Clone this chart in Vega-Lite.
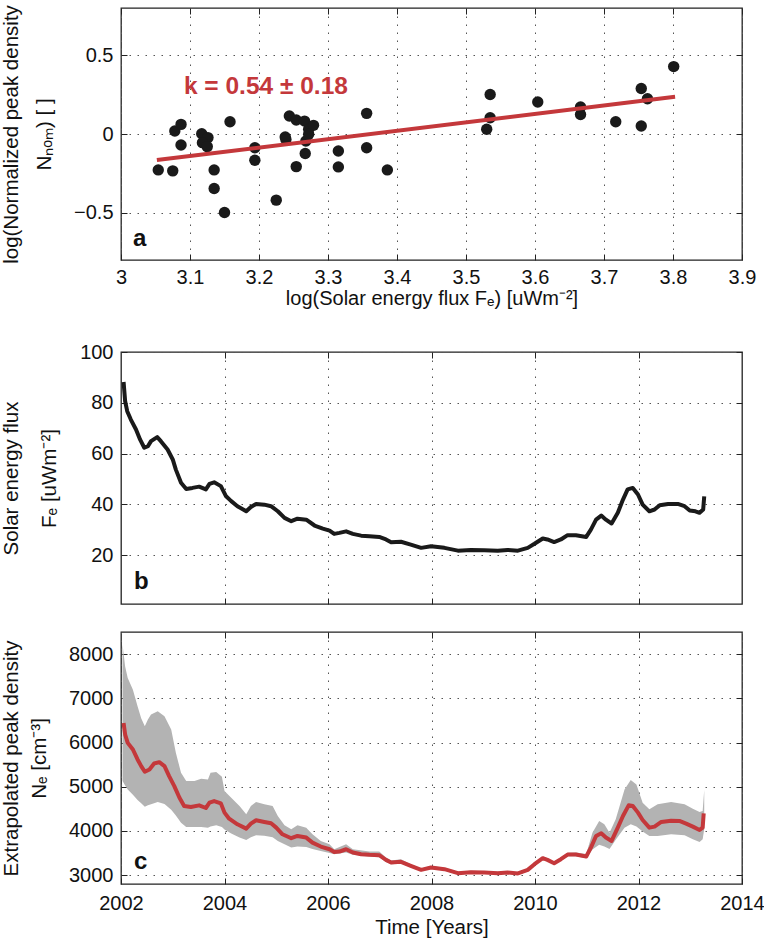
{
  "$schema": "https://vega.github.io/schema/vega-lite/v6.json",
  "padding": {"left": 0, "top": 4, "right": 0, "bottom": 0},
  "background": "white",
  "spacing": 32,
  "config": {
    "view": {"stroke": "#222", "strokeWidth": 1.3},
    "axis": {
      "labelFont": "Liberation Sans", "titleFont": "Liberation Sans",
      "labelFontSize": 20, "titleFontSize": 20.5, "titleFontWeight": "normal",
      "labelColor": "#111", "titleColor": "#111",
      "grid": true, "gridColor": "#555", "gridDash": [1.5, 6.5], "gridWidth": 1,
      "tickColor": "#222", "tickSize": -6, "tickWidth": 1, "domain": false,
      "labelPadding": 14, "labelFlush": false, "labelOverlap": false, "labelBound": false
    }
  },
  "datasets": {
    "scatter": [
      {"x": 3.054, "y": -0.228}, {"x": 3.075, "y": -0.234}, {"x": 3.078, "y": 0.019}, {"x": 3.087, "y": 0.061},
      {"x": 3.087, "y": -0.070}, {"x": 3.117, "y": 0.002}, {"x": 3.126, "y": -0.023}, {"x": 3.118, "y": -0.055},
      {"x": 3.125, "y": -0.080}, {"x": 3.135, "y": -0.228}, {"x": 3.135, "y": -0.346}, {"x": 3.150, "y": -0.498},
      {"x": 3.158, "y": 0.078}, {"x": 3.194, "y": -0.087}, {"x": 3.194, "y": -0.167}, {"x": 3.225, "y": -0.420},
      {"x": 3.238, "y": -0.019}, {"x": 3.239, "y": -0.035}, {"x": 3.244, "y": 0.114}, {"x": 3.254, "y": 0.089},
      {"x": 3.254, "y": -0.207}, {"x": 3.266, "y": 0.082}, {"x": 3.272, "y": 0.030}, {"x": 3.279, "y": 0.055},
      {"x": 3.268, "y": -0.044}, {"x": 3.267, "y": -0.124}, {"x": 3.272, "y": -0.002}, {"x": 3.315, "y": -0.108},
      {"x": 3.315, "y": -0.209}, {"x": 3.356, "y": 0.131}, {"x": 3.356, "y": -0.087}, {"x": 3.386, "y": -0.228},
      {"x": 3.535, "y": 0.251}, {"x": 3.535, "y": 0.103}, {"x": 3.530, "y": 0.030}, {"x": 3.604, "y": 0.203},
      {"x": 3.666, "y": 0.171}, {"x": 3.666, "y": 0.124}, {"x": 3.717, "y": 0.078}, {"x": 3.754, "y": 0.289},
      {"x": 3.763, "y": 0.224}, {"x": 3.754, "y": 0.051}, {"x": 3.801, "y": 0.428}
    ],
    "fit": [{"x": 3.052, "y": -0.165}, {"x": 3.803, "y": 0.236}],
    "flux": [
      {"t": 2002.05, "f": 88.2}, {"t": 2002.08, "f": 80.6}, {"t": 2002.12, "f": 76.7}, {"t": 2002.19, "f": 73.4},
      {"t": 2002.29, "f": 69.5}, {"t": 2002.37, "f": 65.5}, {"t": 2002.45, "f": 62.3}, {"t": 2002.52, "f": 62.9},
      {"t": 2002.58, "f": 64.9}, {"t": 2002.70, "f": 66.5}, {"t": 2002.77, "f": 64.9}, {"t": 2002.90, "f": 61.6},
      {"t": 2003.00, "f": 57.7}, {"t": 2003.06, "f": 53.7}, {"t": 2003.16, "f": 48.5}, {"t": 2003.26, "f": 46.1},
      {"t": 2003.38, "f": 46.5}, {"t": 2003.51, "f": 47.0}, {"t": 2003.64, "f": 45.9}, {"t": 2003.71, "f": 48.1},
      {"t": 2003.80, "f": 48.7}, {"t": 2003.93, "f": 47.2}, {"t": 2004.03, "f": 43.2}, {"t": 2004.13, "f": 41.3},
      {"t": 2004.25, "f": 39.3}, {"t": 2004.42, "f": 37.3}, {"t": 2004.51, "f": 39.0}, {"t": 2004.61, "f": 40.2},
      {"t": 2004.77, "f": 39.9}, {"t": 2004.90, "f": 39.3}, {"t": 2005.03, "f": 37.3}, {"t": 2005.16, "f": 34.7},
      {"t": 2005.29, "f": 33.4}, {"t": 2005.41, "f": 34.4}, {"t": 2005.58, "f": 34.0}, {"t": 2005.74, "f": 31.7},
      {"t": 2005.90, "f": 30.5}, {"t": 2006.03, "f": 29.7}, {"t": 2006.12, "f": 28.4}, {"t": 2006.22, "f": 28.8},
      {"t": 2006.35, "f": 29.4}, {"t": 2006.48, "f": 28.4}, {"t": 2006.64, "f": 27.7}, {"t": 2006.80, "f": 27.5},
      {"t": 2006.99, "f": 27.2}, {"t": 2007.12, "f": 26.2}, {"t": 2007.22, "f": 25.1}, {"t": 2007.41, "f": 25.3},
      {"t": 2007.60, "f": 24.2}, {"t": 2007.80, "f": 22.9}, {"t": 2007.99, "f": 23.5}, {"t": 2008.25, "f": 22.9},
      {"t": 2008.51, "f": 21.8}, {"t": 2008.76, "f": 22.1}, {"t": 2009.02, "f": 22.0}, {"t": 2009.28, "f": 21.8},
      {"t": 2009.47, "f": 22.1}, {"t": 2009.67, "f": 21.8}, {"t": 2009.86, "f": 22.9}, {"t": 2009.99, "f": 24.5},
      {"t": 2010.15, "f": 26.6}, {"t": 2010.24, "f": 26.2}, {"t": 2010.37, "f": 25.2}, {"t": 2010.50, "f": 26.2},
      {"t": 2010.63, "f": 27.9}, {"t": 2010.79, "f": 27.9}, {"t": 2010.99, "f": 27.2}, {"t": 2011.08, "f": 30.1},
      {"t": 2011.18, "f": 34.0}, {"t": 2011.28, "f": 35.6}, {"t": 2011.37, "f": 34.0}, {"t": 2011.48, "f": 32.5},
      {"t": 2011.60, "f": 36.7}, {"t": 2011.70, "f": 41.9}, {"t": 2011.79, "f": 45.9}, {"t": 2011.89, "f": 46.5},
      {"t": 2011.99, "f": 43.9}, {"t": 2012.08, "f": 39.9}, {"t": 2012.21, "f": 37.3}, {"t": 2012.31, "f": 38.0},
      {"t": 2012.41, "f": 39.7}, {"t": 2012.57, "f": 40.2}, {"t": 2012.76, "f": 40.2}, {"t": 2012.89, "f": 39.3},
      {"t": 2012.99, "f": 37.6}, {"t": 2013.10, "f": 37.3}, {"t": 2013.18, "f": 36.7}, {"t": 2013.25, "f": 38.0},
      {"t": 2013.27, "f": 43.2}
    ],
    "dens": [
      {"t": 2002.05, "n": 6444}, {"t": 2002.08, "n": 6180}, {"t": 2002.13, "n": 5992}, {"t": 2002.23, "n": 5842},
      {"t": 2002.32, "n": 5617}, {"t": 2002.39, "n": 5466}, {"t": 2002.46, "n": 5338}, {"t": 2002.55, "n": 5391},
      {"t": 2002.64, "n": 5526}, {"t": 2002.74, "n": 5556}, {"t": 2002.84, "n": 5466}, {"t": 2002.93, "n": 5241},
      {"t": 2003.03, "n": 5015}, {"t": 2003.13, "n": 4752}, {"t": 2003.22, "n": 4564}, {"t": 2003.35, "n": 4541},
      {"t": 2003.51, "n": 4579}, {"t": 2003.64, "n": 4519}, {"t": 2003.71, "n": 4639}, {"t": 2003.80, "n": 4677},
      {"t": 2003.93, "n": 4624}, {"t": 2004.00, "n": 4414}, {"t": 2004.09, "n": 4278}, {"t": 2004.25, "n": 4150},
      {"t": 2004.42, "n": 4053}, {"t": 2004.51, "n": 4165}, {"t": 2004.61, "n": 4241}, {"t": 2004.77, "n": 4203},
      {"t": 2004.90, "n": 4173}, {"t": 2005.00, "n": 4075}, {"t": 2005.12, "n": 3925}, {"t": 2005.29, "n": 3835},
      {"t": 2005.41, "n": 3887}, {"t": 2005.58, "n": 3850}, {"t": 2005.70, "n": 3737}, {"t": 2005.86, "n": 3647},
      {"t": 2006.03, "n": 3586}, {"t": 2006.12, "n": 3526}, {"t": 2006.22, "n": 3534}, {"t": 2006.35, "n": 3586},
      {"t": 2006.48, "n": 3511}, {"t": 2006.64, "n": 3474}, {"t": 2006.80, "n": 3459}, {"t": 2006.99, "n": 3451},
      {"t": 2007.12, "n": 3346}, {"t": 2007.22, "n": 3286}, {"t": 2007.41, "n": 3301}, {"t": 2007.60, "n": 3211},
      {"t": 2007.80, "n": 3120}, {"t": 2007.99, "n": 3173}, {"t": 2008.25, "n": 3135}, {"t": 2008.51, "n": 3045},
      {"t": 2008.76, "n": 3068}, {"t": 2009.02, "n": 3060}, {"t": 2009.28, "n": 3045}, {"t": 2009.47, "n": 3060},
      {"t": 2009.67, "n": 3038}, {"t": 2009.86, "n": 3120}, {"t": 2009.99, "n": 3248}, {"t": 2010.15, "n": 3383},
      {"t": 2010.24, "n": 3346}, {"t": 2010.37, "n": 3271}, {"t": 2010.50, "n": 3361}, {"t": 2010.63, "n": 3466},
      {"t": 2010.79, "n": 3466}, {"t": 2010.99, "n": 3421}, {"t": 2011.08, "n": 3624}, {"t": 2011.18, "n": 3887},
      {"t": 2011.28, "n": 3947}, {"t": 2011.37, "n": 3850}, {"t": 2011.48, "n": 3774}, {"t": 2011.60, "n": 4075},
      {"t": 2011.70, "n": 4338}, {"t": 2011.81, "n": 4579}, {"t": 2011.89, "n": 4564}, {"t": 2011.99, "n": 4414},
      {"t": 2012.08, "n": 4248}, {"t": 2012.21, "n": 4075}, {"t": 2012.31, "n": 4098}, {"t": 2012.44, "n": 4203},
      {"t": 2012.63, "n": 4233}, {"t": 2012.79, "n": 4226}, {"t": 2012.92, "n": 4165}, {"t": 2013.05, "n": 4098},
      {"t": 2013.18, "n": 4023}, {"t": 2013.24, "n": 4075}, {"t": 2013.26, "n": 4398}
    ],
    "band": [
      {"t": 2002.03, "lo": 5128, "hi": 8211}, {"t": 2002.08, "lo": 5030, "hi": 7722}, {"t": 2002.13, "lo": 4940, "hi": 7459},
      {"t": 2002.23, "lo": 4820, "hi": 7195}, {"t": 2002.32, "lo": 4700, "hi": 6820}, {"t": 2002.39, "lo": 4624, "hi": 6550},
      {"t": 2002.46, "lo": 4549, "hi": 6368}, {"t": 2002.52, "lo": 4580, "hi": 6519}, {"t": 2002.58, "lo": 4602, "hi": 6632},
      {"t": 2002.71, "lo": 4654, "hi": 6707}, {"t": 2002.84, "lo": 4610, "hi": 6594}, {"t": 2002.97, "lo": 4480, "hi": 6293},
      {"t": 2003.06, "lo": 4350, "hi": 5767}, {"t": 2003.16, "lo": 4188, "hi": 5316}, {"t": 2003.26, "lo": 4090, "hi": 5128},
      {"t": 2003.42, "lo": 4090, "hi": 5128}, {"t": 2003.55, "lo": 4090, "hi": 5180}, {"t": 2003.68, "lo": 4075, "hi": 5165},
      {"t": 2003.73, "lo": 4100, "hi": 5316}, {"t": 2003.84, "lo": 4130, "hi": 5331}, {"t": 2003.95, "lo": 4090, "hi": 5226},
      {"t": 2004.00, "lo": 4030, "hi": 4902}, {"t": 2004.13, "lo": 3940, "hi": 4752}, {"t": 2004.29, "lo": 3850, "hi": 4564},
      {"t": 2004.42, "lo": 3797, "hi": 4376}, {"t": 2004.51, "lo": 3860, "hi": 4564}, {"t": 2004.61, "lo": 3902, "hi": 4654},
      {"t": 2004.77, "lo": 3890, "hi": 4602}, {"t": 2004.93, "lo": 3860, "hi": 4564}, {"t": 2005.03, "lo": 3770, "hi": 4338},
      {"t": 2005.16, "lo": 3700, "hi": 4128}, {"t": 2005.29, "lo": 3624, "hi": 4038}, {"t": 2005.41, "lo": 3650, "hi": 4128},
      {"t": 2005.58, "lo": 3639, "hi": 4075}, {"t": 2005.70, "lo": 3590, "hi": 3925}, {"t": 2005.86, "lo": 3549, "hi": 3774},
      {"t": 2006.03, "lo": 3500, "hi": 3699}, {"t": 2006.12, "lo": 3474, "hi": 3586}, {"t": 2006.35, "lo": 3511, "hi": 3699},
      {"t": 2006.48, "lo": 3460, "hi": 3586}, {"t": 2006.80, "lo": 3420, "hi": 3534}, {"t": 2006.99, "lo": 3406, "hi": 3534},
      {"t": 2007.12, "lo": 3300, "hi": 3398}, {"t": 2007.22, "lo": 3248, "hi": 3330}, {"t": 2007.41, "lo": 3263, "hi": 3361},
      {"t": 2007.60, "lo": 3180, "hi": 3245}, {"t": 2007.80, "lo": 3090, "hi": 3150}, {"t": 2007.99, "lo": 3140, "hi": 3205},
      {"t": 2008.25, "lo": 3105, "hi": 3165}, {"t": 2008.51, "lo": 3015, "hi": 3075}, {"t": 2008.76, "lo": 3038, "hi": 3098},
      {"t": 2009.02, "lo": 3030, "hi": 3090}, {"t": 2009.28, "lo": 3015, "hi": 3075}, {"t": 2009.47, "lo": 3030, "hi": 3090},
      {"t": 2009.67, "lo": 3008, "hi": 3068}, {"t": 2009.86, "lo": 3090, "hi": 3150}, {"t": 2009.99, "lo": 3215, "hi": 3280},
      {"t": 2010.15, "lo": 3350, "hi": 3420}, {"t": 2010.24, "lo": 3310, "hi": 3380}, {"t": 2010.37, "lo": 3240, "hi": 3305},
      {"t": 2010.50, "lo": 3325, "hi": 3400}, {"t": 2010.63, "lo": 3430, "hi": 3505}, {"t": 2010.79, "lo": 3425, "hi": 3510},
      {"t": 2010.99, "lo": 3380, "hi": 3480}, {"t": 2011.11, "lo": 3580, "hi": 3962}, {"t": 2011.24, "lo": 3690, "hi": 4226},
      {"t": 2011.34, "lo": 3650, "hi": 4150}, {"t": 2011.44, "lo": 3590, "hi": 3962}, {"t": 2011.56, "lo": 3800, "hi": 4263},
      {"t": 2011.73, "lo": 4075, "hi": 4940}, {"t": 2011.85, "lo": 4150, "hi": 5150}, {"t": 2011.96, "lo": 4100, "hi": 5053},
      {"t": 2012.08, "lo": 3990, "hi": 4639}, {"t": 2012.21, "lo": 3887, "hi": 4489}, {"t": 2012.37, "lo": 3887, "hi": 4602},
      {"t": 2012.63, "lo": 3925, "hi": 4654}, {"t": 2012.89, "lo": 3902, "hi": 4602}, {"t": 2013.05, "lo": 3812, "hi": 4504},
      {"t": 2013.18, "lo": 3752, "hi": 4429}, {"t": 2013.24, "lo": 3812, "hi": 4451}, {"t": 2013.27, "lo": 4038, "hi": 4925}
    ]
  },
  "vconcat": [
    {
      "width": 621, "height": 252,
      "resolve": {"axis": {"x": "independent", "y": "independent"}},
      "layer": [
        {
          "data": {"name": "scatter"},
          "mark": {"type": "circle", "size": 130, "opacity": 1, "color": "#1a1a1a"},
          "encoding": {
            "x": {"field": "x", "type": "quantitative", "scale": {"domain": [3, 3.9], "nice": false, "zero": false},
                  "axis": {"values": [3, 3.1, 3.2, 3.3, 3.4, 3.5, 3.6, 3.7, 3.8, 3.9], "format": "~g",
                           "title": "log(Solar energy flux Fₑ) [uWm⁻²]", "titleX": 310.5, "titleY": 44, "titleFontSize": 20,
                           "titleBaseline": "alphabetic", "titleAlign": "center", "labelPadding": 13}},
            "y": {"field": "y", "type": "quantitative", "scale": {"domain": [-0.8, 0.8], "nice": false, "zero": false},
                  "axis": {"values": [-0.5, 0, 0.5], "format": "~g",
                           "title": ["log(Normalized peak density", "Nₙₒₘ) [ ]"], "titleX": -120, "titleY": 126,
                           "titleAngle": -90, "titleBaseline": "top", "titleAlign": "center", "titleLineHeight": 33}}
          }
        },
        {
          "data": {"name": "fit"},
          "mark": {"type": "line", "color": "#c4383b", "strokeWidth": 4},
          "encoding": {"x": {"field": "x", "type": "quantitative", "axis": null}, "y": {"field": "y", "type": "quantitative", "axis": null}}
        },
        {
          "data": {"name": "fit"},
          "mark": {"type": "point", "opacity": 0},
          "encoding": {
            "x": {"field": "x", "type": "quantitative", "axis": {"orient": "top", "labels": false, "grid": false, "title": null, "values": [3, 3.1, 3.2, 3.3, 3.4, 3.5, 3.6, 3.7, 3.8, 3.9]}},
            "y": {"field": "y", "type": "quantitative", "axis": {"orient": "right", "labels": false, "grid": false, "title": null, "values": [-0.5, 0, 0.5]}}
          }
        },
        {
          "data": {"values": [{}]},
          "mark": {"type": "text", "text": "k = 0.54 ± 0.18", "font": "Liberation Sans", "fontWeight": "bold", "fontSize": 24.5, "color": "#c4383b", "align": "center", "baseline": "alphabetic"},
          "encoding": {"x": {"datum": 3.21, "type": "quantitative", "axis": null}, "y": {"datum": 0.251, "type": "quantitative", "axis": null}}
        },
        {
          "data": {"values": [{}]},
          "mark": {"type": "text", "text": "a", "font": "Liberation Sans", "fontWeight": "bold", "fontSize": 24, "color": "#111", "align": "left", "baseline": "alphabetic"},
          "encoding": {"x": {"datum": 3.0174, "type": "quantitative", "axis": null}, "y": {"datum": -0.709, "type": "quantitative", "axis": null}}
        }
      ]
    },
    {
      "spacing": 24,
      "vconcat": [
        {
          "width": 621, "height": 252,
          "resolve": {"axis": {"x": "independent", "y": "independent"}},
          "layer": [
            {
              "data": {"name": "flux"},
              "mark": {"type": "line", "color": "#1a1a1a", "strokeWidth": 4, "strokeJoin": "round"},
              "encoding": {
                "x": {"field": "t", "type": "quantitative", "scale": {"domain": [2002, 2014], "nice": false, "zero": false},
                      "axis": {"values": [2004, 2006, 2008, 2010, 2012], "labels": false, "title": null}},
                "y": {"field": "f", "type": "quantitative", "scale": {"domain": [0.8, 100], "nice": false, "zero": false},
                      "axis": {"values": [20, 40, 60, 80, 100],
                               "title": ["Solar energy flux", "Fₑ [uWm⁻²]"], "titleX": -120, "titleY": 126,
                               "titleAngle": -90, "titleBaseline": "top", "titleAlign": "center", "titleLineHeight": 38}}
              }
            },
            {
              "data": {"name": "flux"},
              "mark": {"type": "point", "opacity": 0},
              "encoding": {
                "x": {"field": "t", "type": "quantitative", "axis": {"orient": "top", "labels": false, "grid": false, "title": null, "values": [2004, 2006, 2008, 2010, 2012]}},
                "y": {"field": "f", "type": "quantitative", "axis": {"orient": "right", "labels": false, "grid": false, "title": null, "values": [20, 40, 60, 80, 100]}}
              }
            },
            {
              "data": {"values": [{}]},
              "mark": {"type": "text", "text": "b", "font": "Liberation Sans", "fontWeight": "bold", "fontSize": 24, "color": "#111", "align": "left", "baseline": "alphabetic"},
              "encoding": {"x": {"datum": 2002.25, "type": "quantitative", "axis": null}, "y": {"datum": 6.6, "type": "quantitative", "axis": null}}
            }
          ]
        },
        {
          "width": 621, "height": 252,
          "resolve": {"axis": {"x": "independent", "y": "independent"}},
          "layer": [
            {
              "data": {"name": "band"},
              "mark": {"type": "area", "color": "#b3b3b3", "opacity": 1},
              "encoding": {
                "x": {"field": "t", "type": "quantitative", "scale": {"domain": [2002, 2014], "nice": false, "zero": false},
                      "axis": {"values": [2002, 2004, 2006, 2008, 2010, 2012, 2014], "format": "d",
                               "title": "Time [Years]", "titleX": 310.5, "titleY": 49,
                               "titleBaseline": "alphabetic", "titleAlign": "center", "labelPadding": 15}},
                "y": {"field": "lo", "type": "quantitative", "scale": {"domain": [2800, 8500], "nice": false, "zero": false},
                      "axis": {"values": [3000, 4000, 5000, 6000, 7000, 8000], "format": "d",
                               "title": ["Extrapolated peak density", "Nₑ [cm⁻³]"], "titleX": -120, "titleY": 126,
                               "titleAngle": -90, "titleBaseline": "top", "titleAlign": "center", "titleLineHeight": 28}},
                "y2": {"field": "hi"}
              }
            },
            {
              "data": {"name": "dens"},
              "mark": {"type": "line", "color": "#c4383b", "strokeWidth": 4, "strokeJoin": "round"},
              "encoding": {
                "x": {"field": "t", "type": "quantitative", "axis": null},
                "y": {"field": "n", "type": "quantitative", "axis": null}
              }
            },
            {
              "data": {"name": "dens"},
              "mark": {"type": "point", "opacity": 0},
              "encoding": {
                "x": {"field": "t", "type": "quantitative", "axis": {"orient": "top", "labels": false, "grid": false, "title": null, "values": [2004, 2006, 2008, 2010, 2012]}},
                "y": {"field": "n", "type": "quantitative", "axis": {"orient": "right", "labels": false, "grid": false, "title": null, "values": [3000, 4000, 5000, 6000, 7000, 8000]}}
              }
            },
            {
              "data": {"values": [{}]},
              "mark": {"type": "text", "text": "c", "font": "Liberation Sans", "fontWeight": "bold", "fontSize": 24, "color": "#111", "align": "left", "baseline": "alphabetic"},
              "encoding": {"x": {"datum": 2002.25, "type": "quantitative", "axis": null}, "y": {"datum": 3135, "type": "quantitative", "axis": null}}
            }
          ]
        }
      ]
    }
  ]
}
